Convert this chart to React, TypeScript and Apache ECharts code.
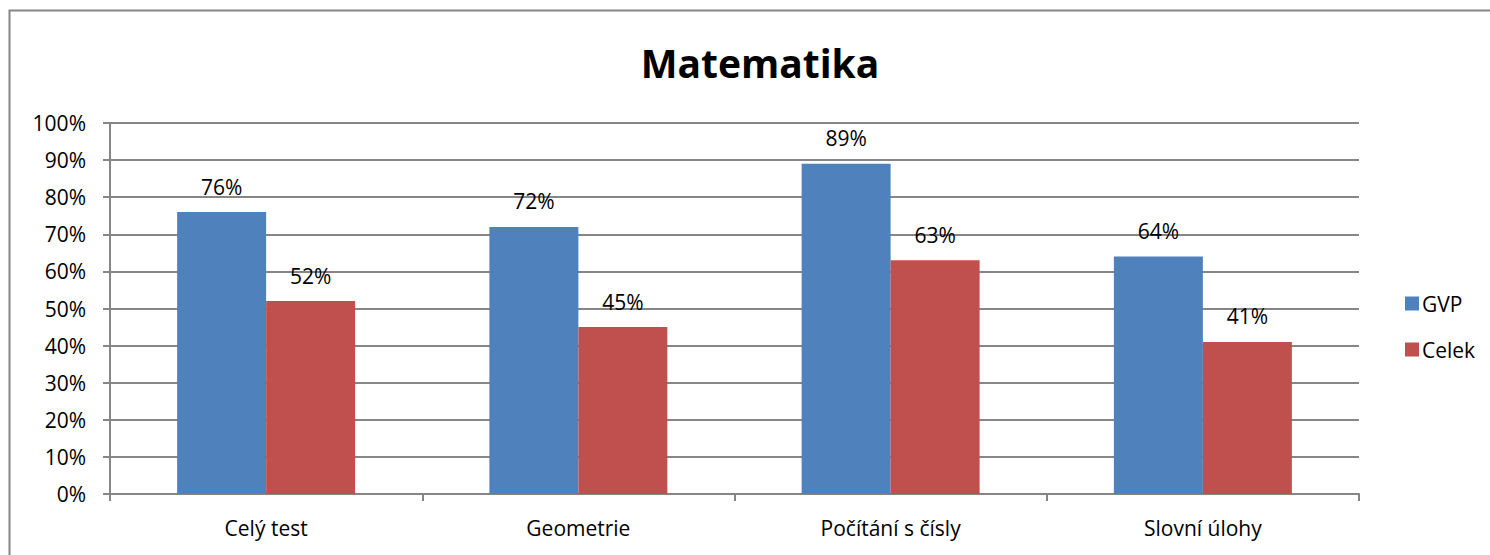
import React, { useEffect, useRef } from "react";
import * as echarts from "echarts";

const categories = ["Celý test", "Geometrie", "Počítání s čísly", "Slovní úlohy"];
const gvpValues = [76, 72, 89, 64];
const celekValues = [52, 45, 63, 41];
const seriesNames = ["GVP", "Celek"];
const titleText = "Matematika";

export default function App() {
  const ref = useRef<HTMLDivElement>(null);
  useEffect(() => {
    if (!ref.current) return;
    const chart = echarts.init(ref.current, null, { renderer: "svg" });
    const font = "Open Sans";
    const labelStyle = {
      show: true,
      position: "top" as const,
      distance: 15,
      formatter: "{c}%",
      color: "#000",
      fontSize: 21,
      fontFamily: font,
    };
    chart.setOption({
      animation: false,
      backgroundColor: "#fff",
      title: {
        text: titleText,
        left: 755,
        top: 38,
        textAlign: "center",
        textStyle: { fontSize: 39, fontWeight: "bold", color: "#000", fontFamily: font },
      },
      graphic: [
        {
          type: "rect",
          shape: { x: 9.5, y: 10.5, width: 1500, height: 600 },
          style: { fill: "none", stroke: "#868686", lineWidth: 2 },
          silent: true,
        },
      ],
      legend: {
        orient: "vertical",
        left: 1400,
        top: 288,
        itemWidth: 14,
        itemHeight: 14,
        itemGap: 25,
        icon: "rect",
        textStyle: { fontSize: 21, color: "#000", fontFamily: font, padding: [0, 0, 0, -2] },
        data: seriesNames,
      },
      grid: { left: 110, right: 131, top: 123, bottom: 61 },
      xAxis: {
        type: "category",
        data: categories,
        axisLine: { lineStyle: { color: "#868686", width: 2 } },
        axisTick: { show: true, length: 7, lineStyle: { color: "#868686", width: 2 } },
        axisLabel: { color: "#000", fontSize: 21, fontFamily: font, margin: 23 },
      },
      yAxis: {
        type: "value",
        min: 0,
        max: 100,
        interval: 10,
        axisLine: { show: true, lineStyle: { color: "#868686", width: 2 } },
        axisTick: { show: true, length: 7, lineStyle: { color: "#868686", width: 2 } },
        splitLine: { lineStyle: { color: "#868686", width: 2 } },
        axisLabel: { color: "#000", fontSize: 21, fontFamily: font, margin: 24, formatter: "{value}%" },
      },
      series: [
        {
          name: seriesNames[0],
          type: "bar",
          data: gvpValues,
          itemStyle: { color: "#4F81BD" },
          barGap: "0%",
          barCategoryGap: "43%",
          label: labelStyle,
        },
        {
          name: seriesNames[1],
          type: "bar",
          data: celekValues,
          itemStyle: { color: "#C0504D" },
          barGap: "0%",
          barCategoryGap: "43%",
          label: labelStyle,
        },
      ],
    });
    return () => chart.dispose();
  }, []);
  return (
    <div
      ref={ref}
      style={{ position: "fixed", left: 0, top: 0, width: 1490, height: 555 }}
    />
  );
}
